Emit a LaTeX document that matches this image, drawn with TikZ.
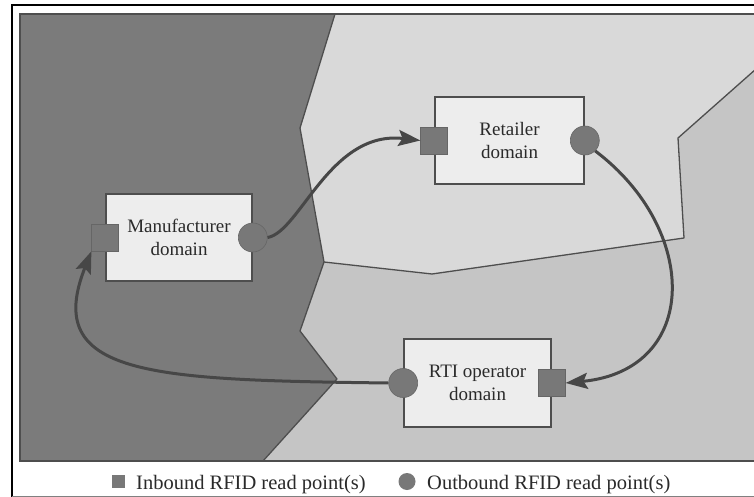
\documentclass[tikz,border=0pt]{standalone}
\usepackage{fontspec}
\setmainfont{Liberation Serif}
\usetikzlibrary{arrows.meta}
\definecolor{darkzone}{HTML}{7B7B7B}
\definecolor{lightzone}{HTML}{D9D9D9}
\definecolor{midzone}{HTML}{C5C5C5}
\definecolor{boxfill}{HTML}{EDEDED}
\definecolor{markfill}{HTML}{787878}
\definecolor{edge}{HTML}{4E4E4E}
\definecolor{flow}{HTML}{474747}
\definecolor{ink}{HTML}{2A2A2A}

\begin{document}
\begin{tikzpicture}[x=1pt,y=-1pt,
  domainbox/.style={draw=edge, line width=1.6pt, fill=boxfill, text=ink,
    align=center, font=\fontsize{19}{23}\selectfont, inner sep=0pt},
  inport/.style={draw=markfill!85!black, line width=0.6pt, fill=markfill,
    minimum size=27pt, inner sep=0pt},
  outport/.style={circle, draw=markfill!85!black, line width=0.6pt, fill=markfill,
    minimum size=29pt, inner sep=0pt},
  flowline/.style={draw=flow, line width=3pt,
    -{Stealth[length=22pt,width=16pt,inset=4pt]}},
  zoneline/.style={draw=edge, line width=1.3pt, line join=round},
  legendtext/.style={font=\fontsize{20.5}{24}\selectfont, text=ink,
    anchor=base west, inner sep=0pt}]

\useasboundingbox (0,0) rectangle (754,497);
\fill[white] (0,0) rectangle (754,497);

% outer frame
\draw[line width=2.5pt, black] (12,499) -- (12,5) -- (756,5);
\draw[line width=1pt, gray] (12,496) -- (756,496);

% the three domain zones
\fill[darkzone] (20,14) -- (335,14) -- (300,128) -- (324,262) -- (300,331)
  -- (337,379) -- (263,461) -- (20,461) -- cycle;
\fill[lightzone] (335,14) -- (756,14) -- (756,70) -- (754,70) -- (678,138)
  -- (684,238) -- (432,274) -- (324,262) -- (300,128) -- cycle;
\fill[midzone] (754,70) -- (756,70) -- (756,461) -- (263,461) -- (337,379)
  -- (300,331) -- (324,262) -- (432,274) -- (684,238) -- (678,138) -- cycle;

% zone borders
\draw[zoneline] (335,14) -- (300,128) -- (324,262) -- (300,331)
  -- (337,379) -- (263,461);
\draw[zoneline] (324,262) -- (432,274) -- (684,238) -- (678,138) -- (756,69);
\draw[edge, line width=1.4pt] (20,14) rectangle (758,461);

% domains
\node[domainbox, minimum width=146pt, minimum height=87pt] (mfr)
  at (179,237.5) {Manufacturer\\domain};
\node[domainbox, minimum width=149pt, minimum height=87pt] (ret)
  at (509.5,140.5) {Retailer\\domain};
\node[domainbox, minimum width=147pt, minimum height=88pt] (rti)
  at (477.5,383) {RTI operator\\domain};

% read points
\node[inport] (mfrIn) at (mfr.west) {};
\node[outport] (mfrOut) at (mfr.east) {};
\node[inport] (retIn) at (ret.west) {};
\node[outport] (retOut) at (ret.east) {};
\node[outport] (rtiOut) at (rti.west) {};
\node[inport] (rtiIn) at (rti.east) {};

% flows between domains
\draw[flowline] (mfrOut.east) .. controls (300,232) and (330,130) .. (retIn.west);
\draw[flowline] (retOut.south east) .. controls (700,230) and (700,370) .. (rtiIn.east);
\draw[flowline] (rtiOut.west) .. controls (150,380) and (42,376) .. (mfrIn.south west);

% legend
\node[inport, draw=none, minimum size=13pt] (keyIn) at (118.5,481.5) {};
\node[legendtext] (keyInText) at (136,489) {Inbound RFID read point(s)};
\node[outport, draw=none, minimum size=17pt] (keyOut) at (407,481.5) {};
\node[legendtext] (keyOutText) at (427,489) {Outbound RFID read point(s)};
\end{tikzpicture}
\end{document}
